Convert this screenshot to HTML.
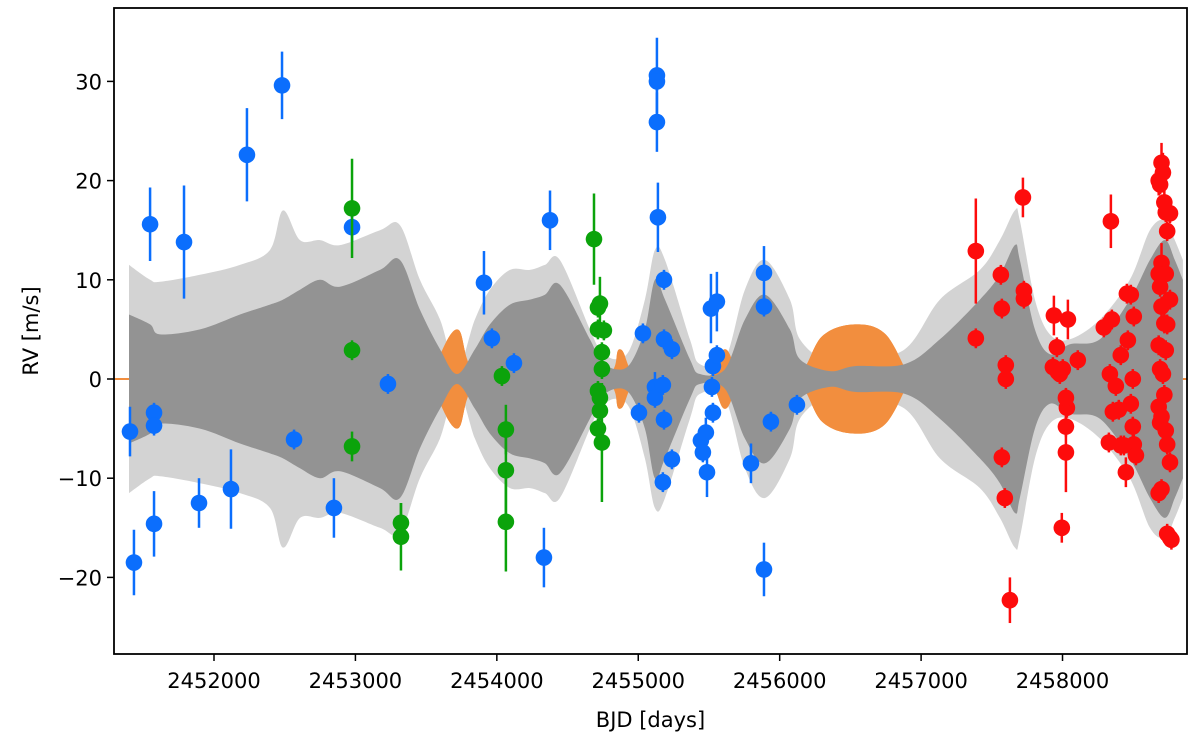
<!DOCTYPE html>
<html><head><meta charset="utf-8"><style>
html,body{margin:0;padding:0;background:#fff;}
svg{display:block;font-family:"DejaVu Sans","Liberation Sans",sans-serif;}
</style></head><body>
<svg id="chart" width="1200" height="740" viewBox="0 0 1200 740" xmlns="http://www.w3.org/2000/svg">
<g id="bands"></g>
<g id="pts"></g>
<g id="axes"></g>
</svg>
<script>
// Model band (time = BJD-2450000)
const bandT = [1399,1548,1618,1901,2184,2396,2488,2608,2749,2891,3174,3315,3456,3598,3718,3845,3951,4093,4234,4340,4446,4658,4729,4835,4941,5047,5118,5189,5365,5436,5613,5754,5896,6072,6143,6355,6532,6885,7133,7416,7557,7663,7698,7805,7911,8052,8264,8476,8618,8724,8794,8851];
const band1 = [6.5,5.5,4.5,5,6.5,7.5,8,9,10,9.3,11,12,7,3,0.5,3,5.5,7.5,8,8.5,9.5,4,2,1,1.5,5,10,8,2,0.5,1,6,8.5,5,2,0.8,1.3,1.5,4,8,10.5,13.5,12,5,2.5,3.5,4,8,12,14,12,10];
const band2 = [11.5,10,9.8,10.5,11.5,13,17,14,14,13.5,15,15.5,10,6,1,6,9,11,11,11.5,12,5,3,2,3,8,13,12,4,1.5,2,9,12,8,4,1.5,1.8,3,8,11,14,17,16,8,4.5,4,6,10,15,16,14,12];
const orangeT = [3527,3718,3909,4729,4870,5012,5471,5613,5754,6108,6300,6532,6750,6921];
const orangeA = [0,5,0,0,3,0,0,3,0,0,4.3,5.5,4.5,0];
// Data series: [time, rv, err]
const blueT=[1406,1434,1548,1576,1576,1576,1788,1894,2120,2233,2481,2566,2848,2976,3230,3909,3965,4121,4333,4376,5005,5033,5118,5118,5132,5132,5132,5139,5174,5182,5182,5182,5174,5238,5238,5443,5457,5478,5486,5514,5528,5521,5528,5556,5556,5797,5889,5889,5889,5938,6122];
const blueV=[-5.3,-18.5,15.6,-3.4,-4.7,-14.6,13.8,-12.5,-11.1,22.6,29.6,-6.1,-13.0,15.3,-0.5,9.7,4.1,1.6,-18,16,-3.4,4.6,-0.8,-1.9,30.6,30.0,25.9,16.3,-0.6,10,4,-4.1,-10.4,3,-8.1,-6.2,-7.4,-5.4,-9.4,7.1,1.3,-0.8,-3.4,7.8,2.4,-8.5,10.7,7.3,-19.2,-4.3,-2.6];
const blueE=[2.5,3.3,3.7,1,1,3.3,5.7,2.5,4,4.7,3.4,1,3,1.5,1,3.2,1,1,3,3,1,1,1.5,1,3.8,1,3,3.5,1,1,1,1,1,1,1,1,1,1.5,2.5,3.5,1,1,1,3,1,2,2.7,1,2.7,1,1];
const greenT=[2976,2976,2976,3322,3322,4036,4064,4064,4064,4687,4715,4729,4743,4743,4715,4729,4729,4715,4743,4715,4757];
const greenV=[17.2,2.9,-6.8,-14.5,-15.9,0.3,-5.1,-9.2,-14.4,14.1,5,7.6,2.7,1,-1.2,-1.9,-3.2,-5,-6.4,7.2,4.9];
const greenE=[5,1,1.5,2,3.4,1,2.5,5,5,4.6,1,2.7,1,1,1,1,1,1,6,1,1];
const redT=[7387,7387,7564,7571,7599,7599,7571,7592,7628,7720,7727,7727,7932,7939,7960,7967,7981,8002,8031,8024,8024,8024,8038,7995,8108,8292,8328,8342,8335,8349,8356,8377,8398,8412,8412,8434,8448,8455,8462,8483,8497,8483,8497,8504,8504,8519,
8700,8710,8680,8690,8720,8730,8760,8740,8700,8680,8730,8690,8760,8700,8720,8740,8680,8730,8690,8710,8720,8680,8700,8690,8730,8740,8760,8700,8680,8740,8760,8770];
const redV=[12.9,4.1,10.5,7.1,1.4,0,-7.9,-12,-22.3,18.3,8.9,8.1,1.2,6.4,3.2,0.7,0.5,1,-2.9,-1.9,-4.8,-7.4,6,-15,1.9,5.2,-6.4,15.9,0.5,6,-3.3,-0.7,-3.1,2.4,-6.7,-6.7,-9.4,8.6,3.9,8.5,0,-2.5,-4.8,6.3,-6.6,-7.7,
21.8,20.8,20,19.6,17.8,16.8,16.7,14.9,11.7,10.6,10.6,9.3,8,7.3,5.6,5.5,3.4,2.9,1,0.5,-1.6,-2.8,-3.8,-4.4,-5.2,-6.6,-8.4,-11.1,-11.5,-15.6,-16,-16.2];
const redE=[5.3,1,1,1,1,1,1,1,2.3,2,1,1,1,2,1,1,1,1,1,1,1,4,2,1.5,1,1,1,2.7,1,1,1,1,1,1,1,1,1.5,1,1,1,1,1,1,1,1,1,
2,2,1.5,1,1.5,1,1,1,2,1,1,1,1,1,1,1,1,1,1,1,1,1,1,1,1,1,1,1,1,1,1,1];
const xTicks=[2000,3000,4000,5000,6000,7000,8000];
const yTicks=[-20,-10,0,10,20,30];

const L=114,R=1187,T=8,B=654;
const x=t=>214+(t-2000)*0.14142;
const y=v=>379-v*9.92;
const NS='http://www.w3.org/2000/svg';
function mk(tag,attrs,parent){const e=document.createElementNS(NS,tag);for(const k in attrs)e.setAttribute(k,attrs[k]);parent.appendChild(e);return e;}
const bands=document.getElementById('bands');
function smooth(pts){ // catmull-rom through pts
  let d='';
  for(let i=0;i<pts.length-1;i++){
    const p0=pts[Math.max(0,i-1)],p1=pts[i],p2=pts[i+1],p3=pts[Math.min(pts.length-1,i+2)];
    const c1=[p1[0]+(p2[0]-p0[0])/6,p1[1]+(p2[1]-p0[1])/6];
    const c2=[p2[0]-(p3[0]-p1[0])/6,p2[1]-(p3[1]-p1[1])/6];
    d+=' C'+c1[0].toFixed(1)+','+c1[1].toFixed(1)+' '+c2[0].toFixed(1)+','+c2[1].toFixed(1)+' '+p2[0].toFixed(1)+','+p2[1].toFixed(1);
  }
  return d;
}
function bandPath(arrT,arrA){
  const up=arrT.map((t,i)=>[x(t),y(arrA[i])]);
  const dn=arrT.map((t,i)=>[x(t),y(-arrA[i])]).reverse();
  return 'M'+up[0][0].toFixed(1)+','+up[0][1].toFixed(1)+smooth(up)+' L'+dn[0][0].toFixed(1)+','+dn[0][1].toFixed(1)+smooth(dn)+' Z';
}
let zl=mk('line',{x1:L,x2:R,y1:y(0),y2:y(0),stroke:'#f28e3e','stroke-width':2},bands);


let ob=mk('path',{d:bandPath(orangeT,orangeA),fill:'#f28e3e'},bands);


let lb=mk('path',{d:bandPath(bandT,band2),fill:'#d3d3d3'},bands);


let ob2=mk('path',{d:bandPath(orangeT,orangeA),fill:'#f28e3e'},bands);


let db=mk('path',{d:bandPath(bandT,band1),fill:'#939393'},bands);



const pts=document.getElementById('pts');
function series(T_,V,E,col,name){
  const g=mk('g',{},pts);
  
  
  T_.forEach((t,i)=>{
    const el=mk('line',{x1:x(t),x2:x(t),y1:y(V[i]+E[i]),y2:y(V[i]-E[i]),stroke:col,'stroke-width':2.5},g);
    
    
  });
  T_.forEach((t,i)=>{
    const c=mk('circle',{cx:x(t),cy:y(V[i]),r:8.3,fill:col},g);
    
    
  });
}
series(blueT,blueV,blueE,'#0b6efd','blue');
series(greenT,greenV,greenE,'#0ba30b','green');
series(redT,redV,redE,'#fd0c0c','red');

const ax=document.getElementById('axes');
const fr=mk('rect',{x:L,y:T,width:R-L,height:B-T,fill:'none',stroke:'#000','stroke-width':1.8},ax);


xTicks.forEach(v=>{
  const px=x(v);
  const tk=mk('line',{x1:px,x2:px,y1:B,y2:B+7,stroke:'#000','stroke-width':1.5},ax);
  
  
  const tx=mk('text',{x:px,y:B+34,'text-anchor':'middle','font-size':21},ax);
  tx.textContent=String(2450000+v);
  
  
});
yTicks.forEach(v=>{
  const py=y(v);
  const tk=mk('line',{x1:L-7,x2:L,y1:py,y2:py,stroke:'#000','stroke-width':1.5},ax);
  
  
  const tx=mk('text',{x:L-12,y:py+8,'text-anchor':'end','font-size':21},ax);
  tx.textContent=(v<0?'\u2212'+(-v):String(v));
  
  
});
const xl=mk('text',{x:(L+R)/2,y:727,'text-anchor':'middle','font-size':21},ax);
xl.textContent='BJD [days]';


const yl=mk('text',{x:0,y:0,'text-anchor':'middle','font-size':21,transform:'translate(38,331) rotate(-90)'},ax);
yl.textContent='RV [m/s]';


</script>
</body></html>
